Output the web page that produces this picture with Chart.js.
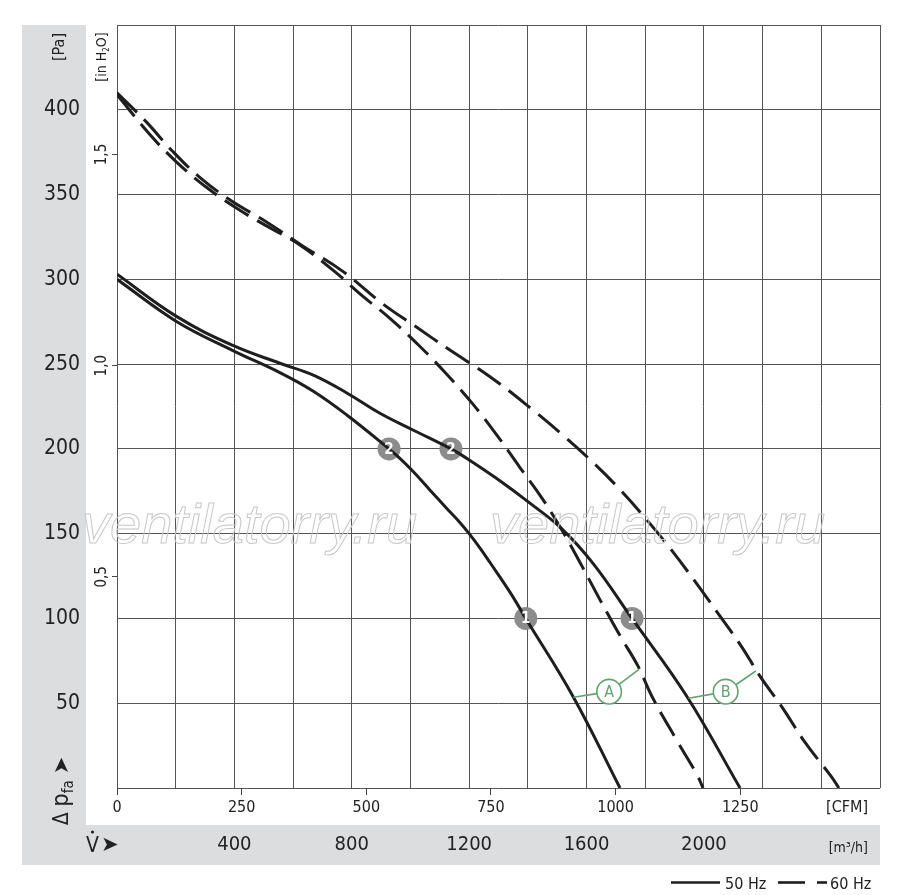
<!DOCTYPE html>
<html>
<head>
<meta charset="utf-8">
<script src="https://cdn.jsdelivr.net/npm/chart.js@4.4.1/dist/chart.umd.min.js"></script>
<style>
html,body{margin:0;padding:0;background:#fff;}
#wrap{width:900px;height:895px;}
</style>
</head>
<body>
<div id="wrap"><canvas id="c" width="900" height="895"></canvas></div>
<script>
// ---------- data (flow in m³/h, pressure in Pa) ----------
const a50Flow = [0, 204, 395, 555, 669, 783, 927, 964, 1010, 1066, 1123, 1169, 1200, 1237, 1271, 1339, 1393, 1554, 1714];
const a50Pa   = [300, 275, 258, 245, 234, 220, 200, 194.4, 186.5, 175.8, 165, 156.5, 150, 141.5, 133, 115.5, 100, 54, 0];

const b50Flow = [0, 204, 395, 555, 669, 783, 896, 1010, 1138, 1191, 1294, 1407, 1515, 1622, 1755, 1942, 2123];
const b50Pa   = [303, 278, 261, 250.5, 243.5, 233, 221, 211, 200, 194.5, 182.5, 168, 153, 132.5, 100, 54, 0];

const a60Flow = [0, 109, 204, 307, 416, 525, 617, 739, 831, 930, 1029, 1115, 1210, 1295, 1373, 1448, 1520, 1584, 1649, 1717, 1775, 1823, 1908, 1976, 1997];
const a60Pa   = [409, 386, 369, 354, 341, 330, 321, 305, 291, 277, 261, 245.6, 227, 208, 189, 171, 151, 131, 110, 89, 72, 54, 28, 8, 0];

const b60Flow = [0, 99, 187, 283, 392, 508, 630, 767, 906, 1019, 1128, 1271, 1417, 1520, 1622, 1714, 1806, 1891, 1969, 2048, 2126, 2191, 2269, 2344, 2433, 2460];
const b60Pa   = [410, 393, 376, 360, 346, 334, 320, 305, 285.5, 272, 259, 242.6, 223, 208, 192, 176, 158, 140, 122, 103, 84, 66, 47, 27, 7, 0];

// operating points
const opFlow   = [927, 1138, 1393, 1755];
const opPa     = [200, 200, 100, 100];
const opLabels = ['2', '2', '1', '1'];

// tick labels
const paTicks    = [50, 100, 150, 200, 250, 300, 350, 400];
const inH2OTicks = [0.5, 1.0, 1.5];
const inH2OLabels = ['0,5', '1,0', '1,5'];
const cfmTicks   = [0, 250, 500, 750, 1000, 1250];
const m3hTicks   = [400, 800, 1200, 1600, 2000];

// curve labels A / B (data coords)
const curveTags = ['A', 'B'];
const tagFlow   = [1677, 2074];
const tagPa     = [56.8, 56.8];
const tagFromFlow = [1555, 1947];
const tagFromPa   = [53.5, 52.9];
const tagToFlow   = [1779, 2177];
const tagToPa     = [70, 69];

// ---------- constants ----------
const FLOW_MAX = 2600;
const PA_MAX = 450;
const PA_PER_INH2O = 249.089;
const M3H_PER_CFM = 1.699011;
const NARROW = "'DejaVu Sans Condensed','DejaVu Sans',sans-serif";
const TXT = '#222';
const GRID = '#555';
const GREEN = '#63a36f';

const pts = (xs, ys) => xs.map((x, i) => ({x: x, y: ys[i]}));

const bgPlugin = {
  id: 'bg',
  beforeDraw(chart) {
    const ctx = chart.ctx;
    ctx.save();
    ctx.fillStyle = '#dcdddf';
    ctx.fillRect(22, 25, 64, 840);
    ctx.fillRect(86, 825, 794, 40);
    ctx.restore();
  }
};

function rotText(ctx, x, y, runs) {
  ctx.save();
  ctx.translate(x, y);
  ctx.rotate(-Math.PI / 2);
  ctx.textBaseline = 'alphabetic';
  ctx.textAlign = 'left';
  let total = 0;
  runs.forEach(r => { ctx.font = r.font; total += ctx.measureText(r.t).width; });
  let cx = -total / 2;
  runs.forEach(r => {
    ctx.font = r.font;
    ctx.fillText(r.t, cx, r.dy || 0);
    cx += ctx.measureText(r.t).width;
  });
  ctx.restore();
}

const decoPlugin = {
  id: 'deco',
  afterDatasetsDraw(chart) {
    const ctx = chart.ctx;
    const xs = chart.scales.x, ys = chart.scales.y;
    const meta = chart.getDatasetMeta(4);
    ctx.save();
    ctx.fillStyle = '#fff';
    ctx.font = "bold 15px " + NARROW;
    ctx.textAlign = 'center';
    ctx.textBaseline = 'middle';
    meta.data.forEach((p, i) => { ctx.fillText(opLabels[i], p.x, p.y + 1); });
    ctx.restore();

    ctx.save();
    const R = 12.3;
    curveTags.forEach((tag, i) => {
      const cx = xs.getPixelForValue(tagFlow[i]), cy = ys.getPixelForValue(tagPa[i]);
      const fx = xs.getPixelForValue(tagFromFlow[i]), fy = ys.getPixelForValue(tagFromPa[i]);
      const tx = xs.getPixelForValue(tagToFlow[i]), ty = ys.getPixelForValue(tagToPa[i]);
      ctx.strokeStyle = GREEN;
      ctx.lineWidth = 1.6;
      [[fx, fy], [tx, ty]].forEach(([px, py]) => {
        const d = Math.hypot(px - cx, py - cy);
        ctx.beginPath();
        ctx.moveTo(px, py);
        ctx.lineTo(cx + (px - cx) / d * R, cy + (py - cy) / d * R);
        ctx.stroke();
      });
      ctx.beginPath();
      ctx.arc(cx, cy, R, 0, Math.PI * 2);
      ctx.fillStyle = '#fff';
      ctx.fill();
      ctx.stroke();
      ctx.fillStyle = GREEN;
      ctx.font = "16px " + NARROW;
      ctx.textAlign = 'center';
      ctx.textBaseline = 'middle';
      ctx.fillText(tag, cx, cy + 1);
    });
    ctx.restore();
  },
  afterDraw(chart) {
    const ctx = chart.ctx;
    const yh = chart.scales.yh;
    ctx.save();
    ctx.fillStyle = TXT;
    inH2OTicks.forEach((v, i) => {
      const py = yh.getPixelForValue(v);
      rotText(ctx, 106, py, [{t: inH2OLabels[i], font: "15px " + NARROW}]);
    });
    rotText(ctx, 64, 47, [{t: '[Pa]', font: "16px " + NARROW}]);
    rotText(ctx, 106, 57, [
      {t: '[in H', font: "14px " + NARROW},
      {t: '2', font: "8px " + NARROW, dy: 3},
      {t: 'O]', font: "14px " + NARROW}
    ]);
    rotText(ctx, 68, 791, [
      {t: 'Δ ', font: "21px " + NARROW},
      {t: 'p', font: "23px " + NARROW},
      {t: 'fa', font: "15px " + NARROW, dy: 5},
      {t: ' ', font: "21px " + NARROW},
      {t: '➤', font: "21px 'DejaVu Sans',sans-serif"}
    ]);
    ctx.font = "21px " + NARROW;
    ctx.textAlign = 'left';
    ctx.textBaseline = 'alphabetic';
    ctx.fillText('V', 86, 852);
    ctx.beginPath();
    ctx.arc(92.5, 832, 1.6, 0, Math.PI * 2);
    ctx.fill();
    ctx.font = "21px 'DejaVu Sans',sans-serif";
    ctx.fillText('➤', 101, 851);
    ctx.font = "16px " + NARROW;
    ctx.textAlign = 'right';
    ctx.fillText('[CFM]', 868, 812);
    ctx.font = "14px " + NARROW;
    ctx.fillText('[m³/h]', 868, 852);
    // legend
    ctx.strokeStyle = '#1e1e1e';
    ctx.lineWidth = 2.6;
    ctx.beginPath(); ctx.moveTo(671, 882.5); ctx.lineTo(720, 882.5); ctx.stroke();
    ctx.beginPath(); ctx.moveTo(778, 882.5); ctx.lineTo(805, 882.5); ctx.stroke();
    ctx.beginPath(); ctx.moveTo(817, 882.5); ctx.lineTo(827, 882.5); ctx.stroke();
    ctx.font = "16px " + NARROW;
    ctx.textAlign = 'left';
    ctx.fillText('50 Hz', 725, 889);
    ctx.fillText('60 Hz', 830, 889);
    // watermark
    ctx.strokeStyle = '#c8c8c8';
    ctx.lineWidth = 1;
    ctx.font = "italic 56px 'Liberation Sans','DejaVu Sans',sans-serif";
    ctx.strokeText('ventilatorry.ru', 82, 543);
    ctx.strokeText('ventilatorry.ru', 490, 543);
    ctx.restore();
  }
};

const lineDs = (label, xs, ys, dash) => ({
  label: label,
  data: pts(xs, ys),
  xAxisID: 'x', yAxisID: 'y',
  borderColor: '#1e1e1e',
  borderWidth: 3,
  borderDash: dash,
  pointRadius: 0,
  fill: false,
  tension: 0.4
});

new Chart(document.getElementById('c'), {
  type: 'line',
  data: {
    datasets: [
      lineDs('A 50 Hz', a50Flow, a50Pa, []),
      lineDs('B 50 Hz', b50Flow, b50Pa, []),
      lineDs('A 60 Hz', a60Flow, a60Pa, [28, 10]),
      lineDs('B 60 Hz', b60Flow, b60Pa, [28, 10]),
      {
        type: 'scatter', label: 'points', data: pts(opFlow, opPa),
        xAxisID: 'x', yAxisID: 'y',
        pointRadius: 11.5, pointBackgroundColor: '#8c8c8c', pointBorderWidth: 0,
        showLine: false
      }
    ]
  },
  options: {
    responsive: false,
    animation: false,
    devicePixelRatio: 1,
    layout: {padding: {left: 0, right: 20, top: 25, bottom: 30}},
    plugins: {legend: {display: false}, tooltip: {enabled: false}},
    scales: {
      yh: {
        type: 'linear', axis: 'y', position: 'left', weight: 0,
        min: 0, max: PA_MAX / PA_PER_INH2O,
        afterBuildTicks: s => { s.ticks = inH2OTicks.map(v => ({value: v})); },
        afterFit: s => { s.width = 31; },
        grid: {drawOnChartArea: false, drawTicks: true, tickLength: 5, color: '#444'},
        border: {display: false},
        ticks: {display: false}
      },
      y: {
        type: 'linear', axis: 'y', position: 'left', weight: 1,
        min: 0, max: PA_MAX,
        afterFit: s => { s.width = 86; },
        grid: {drawTicks: false, color: GRID, lineWidth: 1},
        border: {display: false},
        ticks: {
          stepSize: 50, padding: 6, color: TXT,
          font: {family: NARROW, size: 21},
          callback: v => paTicks.includes(v) ? String(v) : ''
        }
      },
      cfm: {
        type: 'linear', axis: 'x', position: 'bottom', weight: 0,
        min: 0, max: FLOW_MAX / M3H_PER_CFM,
        afterBuildTicks: s => { s.ticks = cfmTicks.map(v => ({value: v})); },
        afterFit: s => { s.height = 37; },
        grid: {drawOnChartArea: false, drawTicks: true, tickLength: 7, color: '#444'},
        border: {display: false},
        ticks: {
          padding: 3, color: TXT, maxRotation: 0, autoSkip: false,
          font: {family: NARROW, size: 16},
          callback: v => String(v)
        }
      },
      x: {
        type: 'linear', axis: 'x', position: 'bottom', weight: 1,
        min: 0, max: FLOW_MAX,
        afterFit: s => { s.height = 40; },
        grid: {drawTicks: false, color: GRID, lineWidth: 1},
        border: {display: false},
        ticks: {
          stepSize: 200, padding: 8, color: TXT, maxRotation: 0, autoSkip: false,
          font: {family: NARROW, size: 20},
          callback: v => m3hTicks.includes(v) ? String(v) : ''
        }
      }
    }
  },
  plugins: [bgPlugin, decoPlugin]
});
</script>
</body>
</html>
